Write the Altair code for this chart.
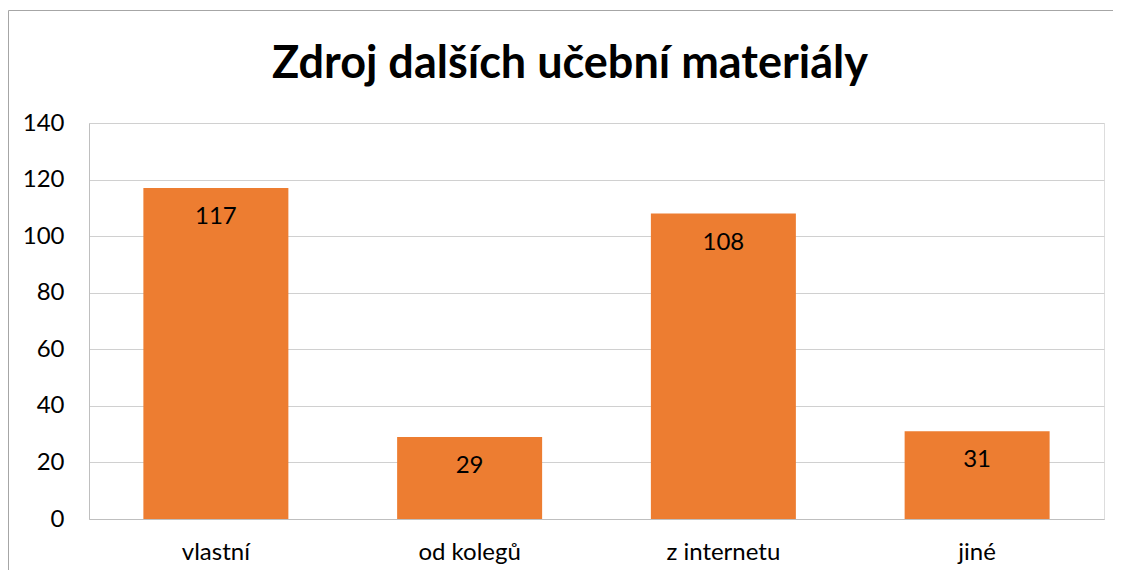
import altair as alt
import pandas as pd

title_text = "Zdroj dalších učební materiály"
categories = ["vlastní", "od kolegů", "z internetu", "jiné"]
values = [117, 29, 108, 31]
y_ticks = [0, 20, 40, 60, 80, 100, 120, 140]

df = pd.DataFrame({"kategorie": categories, "pocet": values})

FONT = "Lato"
ORANGE = "#ED7D31"

base = alt.Chart(df)

x_enc = alt.X(
    "kategorie:N",
    sort=categories,
    title=None,
    scale=alt.Scale(paddingInner=0.4286, paddingOuter=0.2143),
    axis=alt.Axis(
        labelAngle=0,
        labelFontSize=24,
        labelFont=FONT,
        labelColor="#000000",
        labelPadding=21,
        ticks=False,
        domainColor="#BFBFBF",
        domainWidth=1,
        grid=False,
    ),
)

y_enc = alt.Y(
    "pocet:Q",
    title=None,
    scale=alt.Scale(domain=[0, 140], nice=False),
    axis=alt.Axis(
        values=y_ticks,
        labelFontSize=24,
        labelFont=FONT,
        labelColor="#000000",
        labelPadding=25,
        ticks=False,
        domainColor="#BFBFBF",
        domainWidth=1,
        grid=True,
        gridColor="#D0D0D0",
        gridWidth=1,
    ),
)

bars = base.mark_bar(color=ORANGE).encode(x=x_enc, y=y_enc)

labels = base.mark_text(
    baseline="middle", align="center", dy=29, fontSize=24, font=FONT, color="#000000"
).encode(
    x=alt.X("kategorie:N", sort=categories),
    y=alt.Y("pocet:Q"),
    text=alt.Text("pocet:Q"),
)

one = pd.DataFrame({"a": [0]})
border_top = alt.Chart(one).mark_rule(
    color="#A6A6A6", strokeWidth=1, clip=False
).encode(x=alt.value(-80.5), x2=alt.value(1100), y=alt.value(-112.5))
border_left = alt.Chart(one).mark_rule(
    color="#A6A6A6", strokeWidth=1, clip=False
).encode(x=alt.value(-80.5), y=alt.value(-112.5), y2=alt.value(600))

title = alt.Chart(pd.DataFrame({"t": [title_text]})).mark_text(
    font=FONT, fontSize=45, fontWeight="bold", color="#000000",
    align="center", baseline="middle", clip=False
).encode(
    x=alt.value(481), y=alt.value(-59), text="t:N"
)

chart = (
    alt.layer(border_top, border_left, bars, labels, title)
    .properties(
        width=1015,
        height=396,
        autosize=alt.AutoSizeParams(type="none"),
        padding={"left": 81, "top": 115, "right": 9, "bottom": 51},
    )
    .configure_view(strokeOpacity=0, strokeWidth=0)
    .configure(background="white")
)

chart.save("out.html", embed_options={"renderer": "svg", "actions": False})
